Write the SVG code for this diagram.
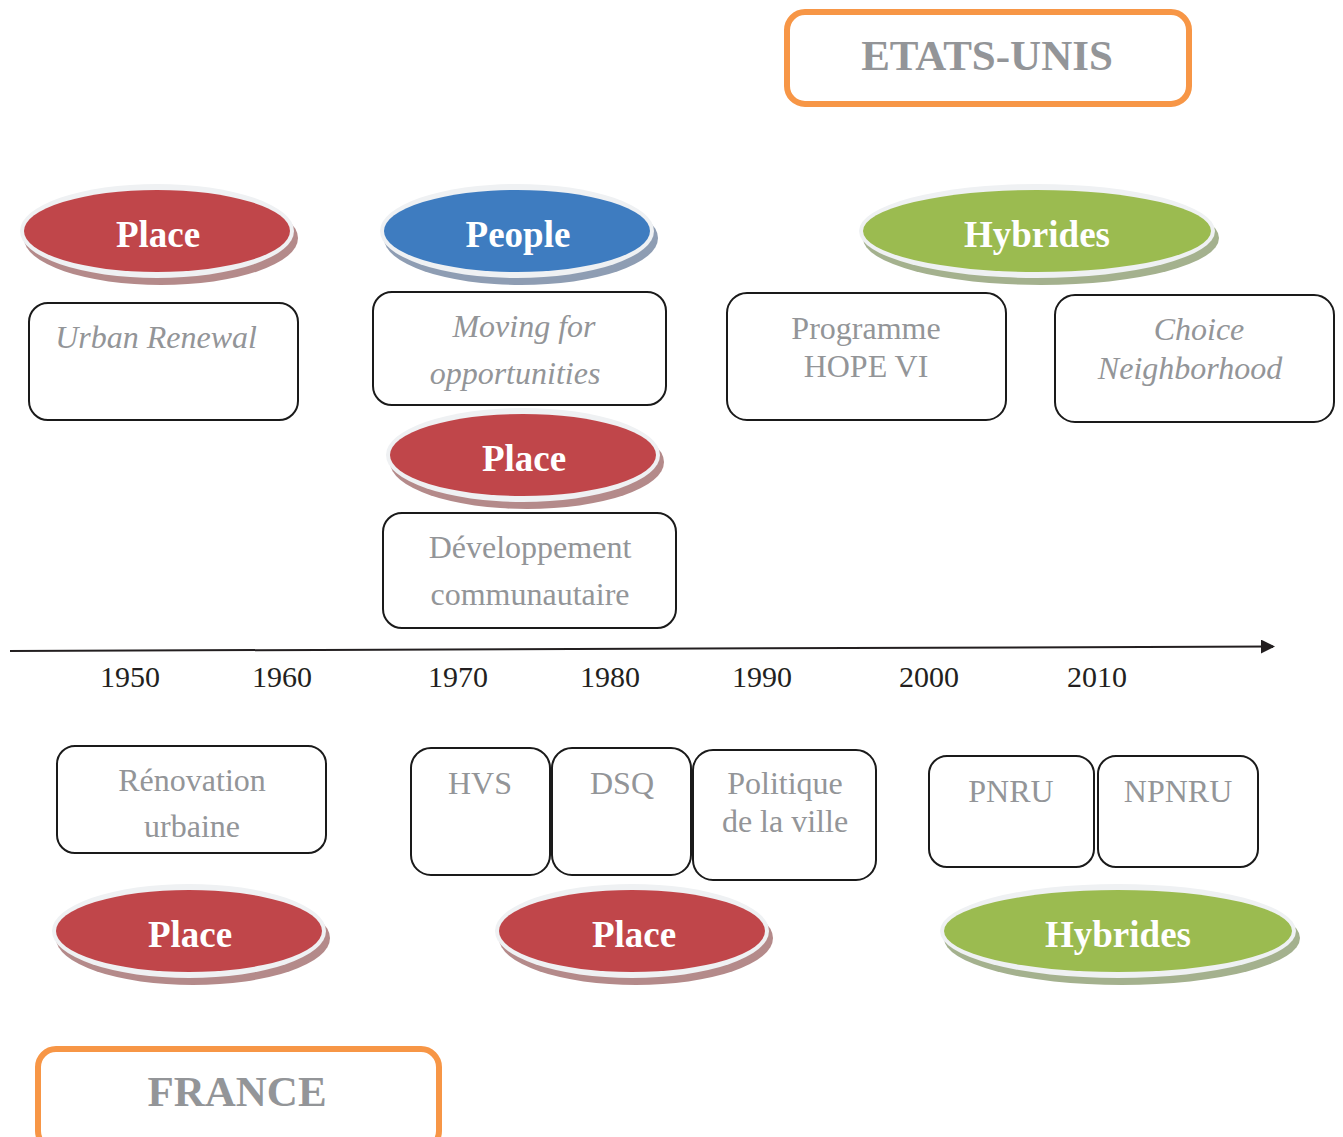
<svg xmlns="http://www.w3.org/2000/svg" width="1343" height="1137" viewBox="0 0 1343 1137">
<style>
  .box{fill:#ffffff;stroke:#1a1a1a;stroke-width:2}
  .obox{fill:#ffffff;stroke:#f79646;stroke-width:6}
  .t{font-family:"Liberation Serif","Times New Roman",serif;font-size:32px;fill:#939598;text-anchor:middle}
  .ti{font-style:italic}
  .ot{font-family:"Liberation Serif","Times New Roman",serif;font-size:43px;font-weight:bold;fill:#939598;text-anchor:middle}
  .el{font-family:"Liberation Serif","Times New Roman",serif;font-size:37px;font-weight:bold;fill:#ffffff;text-anchor:middle}
  .yr{font-family:"Liberation Serif","Times New Roman",serif;font-size:30px;fill:#231f20;text-anchor:middle}
  .ring{fill:#eff1f3}
  .red{fill:#c0464a}
  .sred{fill:#b48a8a}
  .blue{fill:#3e7cc0}
  .sblue{fill:#8e9db3}
  .green{fill:#9bbb50}
  .sgreen{fill:#a4b18e}
</style>
<defs>
  <marker id="arr" markerWidth="14" markerHeight="14" refX="12" refY="7" orient="auto" markerUnits="userSpaceOnUse">
    <path d="M0,0 L14,7 L0,14 Z" fill="#231f20"/>
  </marker>
</defs>

<g id="connectors">
  <line x1="10" y1="651" x2="1273" y2="646.5" stroke="#231f20" stroke-width="2" marker-end="url(#arr)"/>
</g>

<g id="years">
  <text class="yr" x="130" y="687">1950</text>
  <text class="yr" x="282" y="687">1960</text>
  <text class="yr" x="458" y="687">1970</text>
  <text class="yr" x="610" y="687">1980</text>
  <text class="yr" x="762" y="687">1990</text>
  <text class="yr" x="929" y="687">2000</text>
  <text class="yr" x="1097" y="687">2010</text>
</g>

<g id="etats-unis">
  <rect class="obox" x="787" y="12" width="402" height="92" rx="18"/>
  <text class="ot" x="987" y="70">ETATS-UNIS</text>
</g>

<g id="france">
  <rect class="obox" x="38" y="1049" width="401" height="100" rx="18"/>
  <text class="ot" x="237" y="1106">FRANCE</text>
</g>

<g id="us-place-1950" transform="translate(157,231)">
  <ellipse class="sred" cx="4" cy="7" rx="137" ry="47"/>
  <ellipse class="ring" rx="137" ry="47"/>
  <ellipse class="red" rx="133" ry="41"/>
  <text class="el" x="1" y="16">Place</text>
</g>

<g id="us-people" transform="translate(517,231)">
  <ellipse class="sblue" cx="4" cy="7" rx="137" ry="47"/>
  <ellipse class="ring" rx="137" ry="47"/>
  <ellipse class="blue" rx="133" ry="41"/>
  <text class="el" x="1" y="16">People</text>
</g>

<g id="us-hybrides" transform="translate(1037,231)">
  <ellipse class="sgreen" cx="4" cy="7" rx="178" ry="47"/>
  <ellipse class="ring" rx="178" ry="47"/>
  <ellipse class="green" rx="174" ry="41"/>
  <text class="el" y="16">Hybrides</text>
</g>

<g id="us-place-1970" transform="translate(523,455)">
  <ellipse class="sred" cx="4" cy="7" rx="137" ry="47"/>
  <ellipse class="ring" rx="137" ry="47"/>
  <ellipse class="red" rx="133" ry="41"/>
  <text class="el" x="1" y="16">Place</text>
</g>

<g id="fr-place-1950" transform="translate(189,931)">
  <ellipse class="sred" cx="4" cy="7" rx="137" ry="47"/>
  <ellipse class="ring" rx="137" ry="47"/>
  <ellipse class="red" rx="133" ry="41"/>
  <text class="el" x="1" y="16">Place</text>
</g>

<g id="fr-place-1980" transform="translate(632,931)">
  <ellipse class="sred" cx="4" cy="7" rx="137" ry="47"/>
  <ellipse class="ring" rx="137" ry="47"/>
  <ellipse class="red" rx="133" ry="41"/>
  <text class="el" x="2" y="16">Place</text>
</g>

<g id="fr-hybrides" transform="translate(1118,931)">
  <ellipse class="sgreen" cx="4" cy="7" rx="178" ry="47"/>
  <ellipse class="ring" rx="178" ry="47"/>
  <ellipse class="green" rx="174" ry="41"/>
  <text class="el" y="16">Hybrides</text>
</g>

<g id="urban-renewal">
  <rect class="box" x="29" y="303" width="269" height="117" rx="19"/>
  <text class="t ti" x="156" y="348">Urban Renewal</text>
</g>

<g id="moving">
  <rect class="box" x="373" y="292" width="293" height="113" rx="19"/>
  <text class="t ti" x="524" y="337">Moving for</text>
  <text class="t ti" x="515" y="384">opportunities</text>
</g>

<g id="developpement">
  <rect class="box" x="383" y="513" width="293" height="115" rx="19"/>
  <text class="t" x="530" y="558">Développement</text>
  <text class="t" x="530" y="605">communautaire</text>
</g>

<g id="hope-vi">
  <rect class="box" x="727" y="293" width="279" height="127" rx="20"/>
  <text class="t" x="866" y="339">Programme</text>
  <text class="t" x="866" y="377">HOPE VI</text>
</g>

<g id="choice">
  <rect class="box" x="1055" y="295" width="279" height="127" rx="20"/>
  <text class="t ti" x="1199" y="340">Choice</text>
  <text class="t ti" x="1190" y="379">Neighborhood</text>
</g>

<g id="renovation">
  <rect class="box" x="57" y="746" width="269" height="107" rx="18"/>
  <text class="t" x="192" y="791">Rénovation</text>
  <text class="t" x="192" y="837">urbaine</text>
</g>

<g id="hvs">
  <rect class="box" x="411" y="748" width="139" height="127" rx="20"/>
  <text class="t" x="480" y="794">HVS</text>
</g>

<g id="dsq">
  <rect class="box" x="552" y="748" width="139" height="127" rx="20"/>
  <text class="t" x="622" y="794">DSQ</text>
</g>

<g id="politique">
  <rect class="box" x="693" y="750" width="183" height="130" rx="20"/>
  <text class="t" x="785" y="794">Politique</text>
  <text class="t" x="785" y="832">de la ville</text>
</g>

<g id="pnru">
  <rect class="box" x="929" y="756" width="165" height="111" rx="18"/>
  <text class="t" x="1011" y="802">PNRU</text>
</g>

<g id="npnru">
  <rect class="box" x="1098" y="756" width="160" height="111" rx="18"/>
  <text class="t" x="1178" y="802">NPNRU</text>
</g>
</svg>
